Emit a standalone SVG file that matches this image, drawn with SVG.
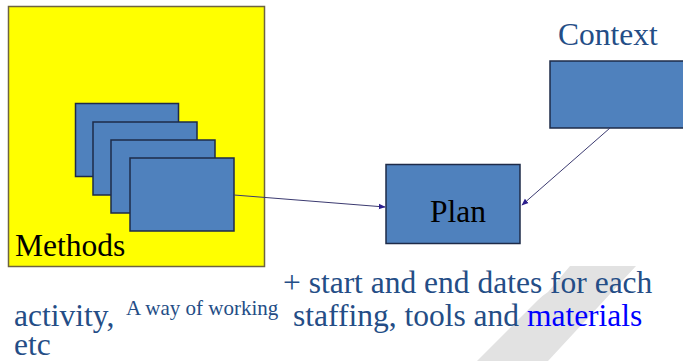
<svg xmlns="http://www.w3.org/2000/svg" width="683" height="361" viewBox="0 0 683 361">
<style>
.box{fill:#4f81bd;stroke:#1e2b48;stroke-width:1.5}
.t{font-family:'Liberation Serif','Times New Roman',Times,'DejaVu Serif',serif;font-size:31.5px}
.s{font-family:'Liberation Serif','Times New Roman',Times,'DejaVu Serif',serif;font-size:21px}
.blue{fill:#244d86}
.conn{stroke:#3b3a70;stroke-width:1;fill:none;marker-end:url(#ah)}
</style>
<defs>
<marker id="ah" viewBox="0 0 10 10" refX="9" refY="5" markerWidth="7" markerHeight="7" markerUnits="userSpaceOnUse" orient="auto">
<path d="M0,1 L10,5 L0,9 Z" fill="#2b1e8c"/>
</marker>
</defs>
<rect width="683" height="361" fill="#ffffff"/>
<path d="M570,266 L636,266 L548,361 L477,361 L537,301 Q543,295 548,292 Z" fill="#e2e2e2"/>
<g id="methods">
<rect x="8.5" y="6.5" width="256" height="260" fill="#ffff00" stroke="#6e6440" stroke-width="1.5"/>
<rect class="box" x="75.5" y="103.5" width="103" height="73"/>
<rect class="box" x="93" y="122" width="104" height="73"/>
<rect class="box" x="111" y="140" width="104" height="73"/>
<rect class="box" x="130" y="158" width="104" height="73"/>
<text class="t" font-family="Liberation Serif, serif" x="15" y="256" fill="#000">Methods</text>
</g>
<g id="plan">
<rect class="box" x="386" y="164.5" width="134" height="79"/>
<text class="t" x="430" y="222" fill="#000">Plan</text>
</g>
<g id="context">
<rect class="box" x="550" y="61" width="140" height="67"/>
<text class="t blue" x="558" y="45">Context</text>
</g>
<g id="connectors">
<path class="conn" d="M234,195 L385,207"/>
<path class="conn" d="M610,128 L522,205"/>
</g>
<g id="notes">
<text class="t blue" x="283" y="293">+ start and end dates for each</text>
<text class="t blue" x="14" y="326">activity,</text>
<text class="s blue" x="126" y="315">A way of working</text>
<text class="t blue" x="293" y="326">staffing, tools and <tspan fill="#0000ff">materials</tspan></text>
<text class="t blue" x="14" y="355">etc</text>
</g>
</svg>
